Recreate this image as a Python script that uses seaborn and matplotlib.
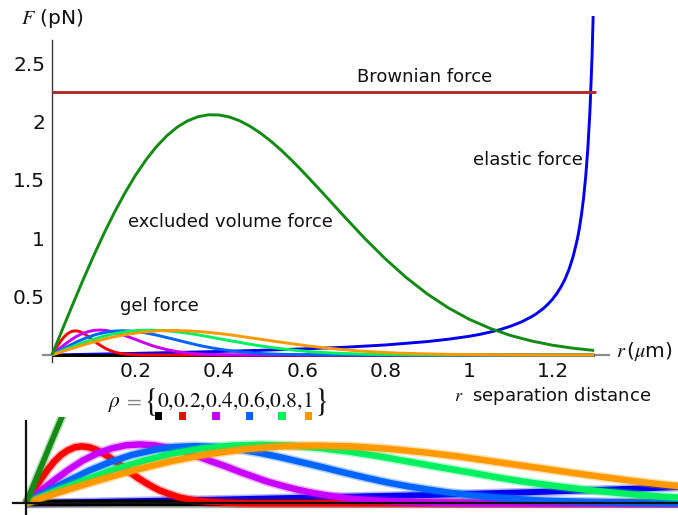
import matplotlib
matplotlib.use("Agg")
import matplotlib.pyplot as plt
import matplotlib.patheffects as pe
from matplotlib.patches import Rectangle
from matplotlib.ticker import FixedLocator, NullFormatter
import seaborn as sns

# ---------------- data (r in µm, F in pN) ----------------
rho_values = ["0", "0.2", "0.4", "0.6", "0.8", "1"]
gel_colors = ["#000000", "#ff0000", "#c800ff", "#0064ff", "#00f060", "#ff9900"]

gel_r_0 = [0.0, 1.3]
gel_f_0 = [0.0, 0.0]

gel_r_02 = [0, 0.007, 0.014, 0.021, 0.028, 0.035, 0.042, 0.049, 0.056, 0.063, 0.070, 0.077, 0.084, 0.091,
            0.098, 0.105, 0.112, 0.119, 0.126, 0.133, 0.140, 0.147, 0.154, 0.161, 0.168, 0.182, 0.196,
            0.210, 0.224, 1.3]
gel_f_02 = [0, 0.042, 0.083, 0.119, 0.151, 0.176, 0.193, 0.204, 0.207, 0.204, 0.195, 0.182, 0.166, 0.148,
            0.129, 0.110, 0.092, 0.076, 0.061, 0.048, 0.038, 0.029, 0.021, 0.016, 0.011, 0.006, 0.003,
            0.001, 0.0, 0.0]

gel_r_04 = [0, 0.014, 0.029, 0.043, 0.057, 0.071, 0.086, 0.100, 0.114, 0.128, 0.143, 0.157, 0.171, 0.185,
            0.200, 0.214, 0.228, 0.242, 0.257, 0.271, 0.285, 0.299, 0.314, 0.328, 0.342, 0.371, 0.399,
            0.428, 0.456, 1.3]
gel_f_04 = [0, 0.044, 0.086, 0.123, 0.156, 0.181, 0.200, 0.211, 0.214, 0.211, 0.202, 0.189, 0.172, 0.153,
            0.134, 0.114, 0.096, 0.078, 0.063, 0.050, 0.039, 0.030, 0.022, 0.016, 0.012, 0.006, 0.003,
            0.001, 0.0, 0.0]

gel_r_06 = [0, 0.021, 0.043, 0.064, 0.085, 0.106, 0.128, 0.149, 0.170, 0.191, 0.213, 0.234, 0.255, 0.276,
            0.298, 0.319, 0.340, 0.361, 0.383, 0.404, 0.425, 0.446, 0.468, 0.489, 0.510, 0.553, 0.595,
            0.638, 0.680, 1.3]
gel_f_06 = [0, 0.043, 0.083, 0.120, 0.151, 0.176, 0.194, 0.205, 0.208, 0.205, 0.196, 0.183, 0.167, 0.149,
            0.130, 0.111, 0.093, 0.076, 0.061, 0.049, 0.038, 0.029, 0.022, 0.016, 0.011, 0.006, 0.003,
            0.001, 0.0, 0.0]

gel_r_08 = [0, 0.029, 0.059, 0.088, 0.118, 0.147, 0.176, 0.206, 0.235, 0.264, 0.294, 0.323, 0.353, 0.382,
            0.411, 0.441, 0.470, 0.499, 0.529, 0.558, 0.588, 0.617, 0.646, 0.676, 0.705, 0.764, 0.823,
            0.881, 0.940, 1.3]
gel_f_08 = [0, 0.044, 0.085, 0.123, 0.155, 0.181, 0.199, 0.210, 0.213, 0.210, 0.201, 0.188, 0.171, 0.152,
            0.133, 0.114, 0.095, 0.078, 0.063, 0.050, 0.039, 0.029, 0.022, 0.016, 0.012, 0.006, 0.003,
            0.001, 0.0, 0.0]

gel_r_1 = [0, 0.036, 0.073, 0.109, 0.145, 0.181, 0.218, 0.254, 0.290, 0.326, 0.363, 0.399, 0.435, 0.471,
           0.508, 0.544, 0.580, 0.616, 0.653, 0.689, 0.725, 0.761, 0.798, 0.834, 0.870, 0.943, 1.015,
           1.088, 1.160, 1.3]
gel_f_1 = [0, 0.043, 0.084, 0.121, 0.153, 0.178, 0.196, 0.207, 0.210, 0.207, 0.198, 0.185, 0.169, 0.150,
           0.131, 0.112, 0.094, 0.077, 0.062, 0.049, 0.038, 0.029, 0.022, 0.016, 0.012, 0.006, 0.003,
           0.001, 0.0, 0.0]

excl_r = [0, 0.025, 0.05, 0.075, 0.1, 0.125, 0.15, 0.175, 0.2, 0.225, 0.25, 0.275, 0.3, 0.325, 0.35,
          0.375, 0.4, 0.425, 0.45, 0.475, 0.5, 0.525, 0.55, 0.575, 0.6, 0.65, 0.7, 0.75, 0.8, 0.85,
          0.9, 0.95, 1.0, 1.05, 1.1, 1.15, 1.2, 1.25, 1.3]
excl_f = [0, 0.220, 0.436, 0.648, 0.851, 1.044, 1.224, 1.389, 1.539, 1.670, 1.784, 1.877, 1.952, 2.006,
          2.042, 2.058, 2.057, 2.040, 2.007, 1.960, 1.901, 1.832, 1.754, 1.668, 1.577, 1.386, 1.190,
          0.999, 0.822, 0.662, 0.523, 0.405, 0.307, 0.229, 0.167, 0.120, 0.084, 0.058, 0.039]

elastic_r = [0, 0.1, 0.2, 0.3, 0.4, 0.5, 0.6, 0.7, 0.8, 0.9, 0.95, 1.0, 1.025, 1.05, 1.075, 1.1, 1.125,
             1.15, 1.16, 1.17, 1.18, 1.19, 1.2, 1.21, 1.22, 1.23, 1.24, 1.25, 1.26, 1.265, 1.27, 1.275,
             1.28, 1.285, 1.29, 1.295, 1.298, 1.3]
elastic_f = [0, 0.007, 0.014, 0.022, 0.030, 0.040, 0.052, 0.066, 0.086, 0.115, 0.135, 0.160, 0.176,
             0.196, 0.218, 0.247, 0.282, 0.328, 0.350, 0.376, 0.404, 0.438, 0.477, 0.524, 0.580, 0.648,
             0.735, 0.847, 0.996, 1.092, 1.21, 1.353, 1.535, 1.77, 2.089, 2.55, 2.937, 3.27]

brown_r = [0.0, 1.305]
brown_f = [2.25, 2.25]

x_ticks = [0.2, 0.4, 0.6, 0.8, 1.0, 1.2]
x_tick_labels = ["0.2", "0.4", "0.6", "0.8", "1", "1.2"]
y_ticks = [0.5, 1.0, 1.5, 2.0, 2.5]
y_tick_labels = ["0.5", "1", "1.5", "2", "2.5"]

gel_series = [(gel_r_0, gel_f_0), (gel_r_02, gel_f_02), (gel_r_04, gel_f_04),
              (gel_r_06, gel_f_06), (gel_r_08, gel_f_08), (gel_r_1, gel_f_1)]

# ---------------- styling ----------------
sns.set_theme(style="white")
plt.rcParams["font.family"] = ["DejaVu Sans"]
plt.rcParams["mathtext.fontset"] = "stix"

W, H = 678, 515
fig = plt.figure(figsize=(W / 100, H / 100), dpi=100)
fig.patch.set_facecolor("white")


def fx(x):
    return x / W


def fy(y):
    return 1 - y / H


def axes_at(x0, xpu, y0, ypu, xl, yl):
    left = x0 + xl[0] * xpu
    right = x0 + xl[1] * xpu
    bottom = y0 - yl[0] * ypu
    top = y0 - yl[1] * ypu
    a = fig.add_axes([fx(left), fy(bottom), (right - left) / W, (bottom - top) / H])
    a.set_xlim(xl)
    a.set_ylim(yl)
    a.set_facecolor("none")
    for s in ("top", "right"):
        a.spines[s].set_visible(False)
    a.spines["left"].set_position(("data", 0))
    a.spines["bottom"].set_position(("data", 0))
    return a


def draw(a, r, f, color, lw, z, soft=False):
    kw = {}
    if soft:
        kw["path_effects"] = [pe.Stroke(linewidth=lw + 2.2, foreground=color, alpha=0.3), pe.Normal()]
    sns.lineplot(x=r, y=f, ax=a, color=color, linewidth=lw, sort=False,
                 estimator=None, zorder=z, legend=False, solid_capstyle="butt",
                 solid_joinstyle="round", **kw)
    a.set_xlabel("")
    a.set_ylabel("")


# ---------------- main panel ----------------
ax = axes_at(52.0, 417.0, 355.0, 116.7, (-0.022, 1.335), (-0.06, 2.905))
ax.spines["left"].set_bounds(-0.06, 2.7)
ax.spines["left"].set_color("#3a3a3a")
ax.spines["left"].set_linewidth(1.0)
ax.spines["bottom"].set_color("#8c8c8c")
ax.spines["bottom"].set_linewidth(1.6)

draw(ax, elastic_r, elastic_f, "#0000ee", 2.1, 3)
for (r, f), c in zip(gel_series, gel_colors):
    draw(ax, r, f, c, 2.1, 4)
draw(ax, excl_r, excl_f, "#138a13", 2.1, 5)
draw(ax, brown_r, brown_f, "#b02a2a", 2.1, 6)

ax.xaxis.set_major_locator(FixedLocator(x_ticks))
ax.set_xticklabels(x_tick_labels)
ax.yaxis.set_major_locator(FixedLocator(y_ticks))
ax.set_yticklabels(y_tick_labels)
x_minor = [round(0.05 * i, 2) for i in range(1, 27) if i % 4 != 0]
y_minor = [round(0.1 * i, 1) for i in range(1, 28) if i % 5 != 0]
ax.xaxis.set_minor_locator(FixedLocator(x_minor))
ax.yaxis.set_minor_locator(FixedLocator(y_minor))
ax.tick_params(which="both", direction="in", color="#444444", width=0.8)
ax.tick_params(which="major", length=4.3, labelsize=14.5, pad=5, labelcolor="#111111")
ax.tick_params(which="minor", length=2.5)

# ---------------- annotations ----------------
def label(x, y, s, size=13, color="#111111", **kw):
    return fig.text(fx(x), fy(y), s, fontsize=size, color=color, ha="left", va="baseline", **kw)


label(357, 82, "Brownian force")
label(473, 165, "elastic force")
label(128, 227, "excluded volume force")
label(120, 311, "gel force")
label(21, 24, r"$F$ (pN)", size=14.5)
label(616, 357, r"$r\,$($\mu$m)", size=14.5)
label(454, 401, r"$r$  separation distance", size=13)

renderer = fig.canvas.get_renderer()
base = 406.5
xpos = 108
for piece, size, col in [(r"$\rho$", 15.5, "#111111"), (r"$\,=\,$", 15.5, "#888888"),
                         (r"$\{$", 23, "#111111"), (r"$0{,}0.2{,}0.4{,}0.6{,}0.8{,}1$", 15.5, "#111111"),
                         (r"$\}$", 23, "#111111")]:
    t = label(xpos, base + (3 if size > 20 else 0), piece, size=size, color=col)
    xpos = t.get_window_extent(renderer).x1 + 0.5

swatch_x = [158.7, 182.5, 216.0, 249.5, 282.0, 308.7]
for cx, c in zip(swatch_x, gel_colors):
    fig.add_artist(Rectangle((fx(cx - 3.6), fy(416 + 3.6)), 7.2 / W, 7.2 / H,
                             transform=fig.transFigure, color=c, lw=0))

# ---------------- magnified view of the gel force region ----------------
ins = axes_at(26.0, 1000.0, 503.3, 275.0, (-0.0133, 0.652), (-0.0425, 0.313))
ins.spines["left"].set_bounds(-0.0425, 0.299)
for s in ("left", "bottom"):
    ins.spines[s].set_color("#111111")
    ins.spines[s].set_linewidth(1.6)

draw(ins, elastic_r, elastic_f, "#0000ee", 4.3, 1.0, soft=True)
for (r, f), c in zip(gel_series, gel_colors):
    draw(ins, r, f, c, 4.6, 1.5, soft=True)
draw(ins, excl_r, excl_f, "#138a13", 4.0, 2.0, soft=True)

ins.xaxis.set_major_locator(FixedLocator([0.2, 0.4, 0.6]))
ins.xaxis.set_minor_locator(FixedLocator([0.05, 0.1, 0.15, 0.25, 0.3, 0.35, 0.45, 0.5, 0.55, 0.65]))
ins.yaxis.set_major_locator(FixedLocator([0.1, 0.2]))
ins.xaxis.set_major_formatter(NullFormatter())
ins.yaxis.set_major_formatter(NullFormatter())
ins.tick_params(which="both", direction="in", color="#111111", width=1.3)
ins.tick_params(axis="x", which="major", length=7.5)
ins.tick_params(axis="x", which="minor", length=3.8)
ins.tick_params(axis="y", which="major", length=3.8)

fig.savefig("out.png", dpi=100, facecolor="white")
